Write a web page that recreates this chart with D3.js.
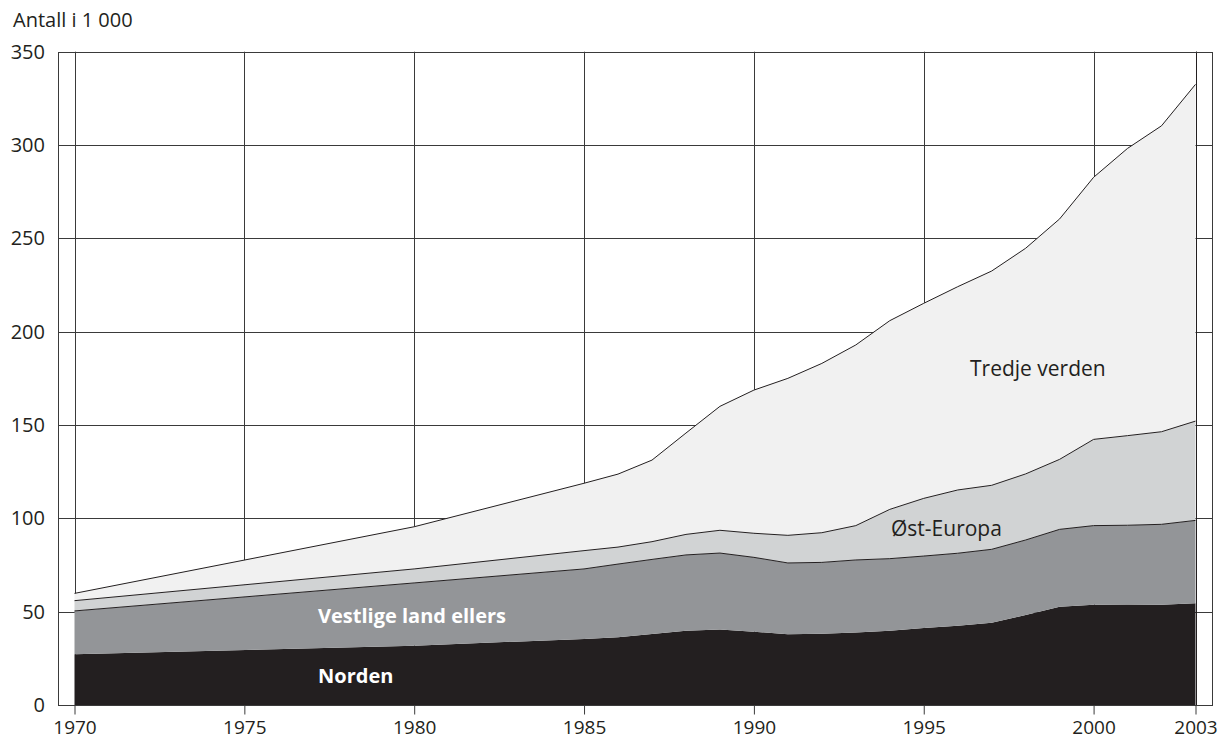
<!DOCTYPE html>
<html>
<head>
<meta charset="utf-8">
<script src="https://cdn.jsdelivr.net/npm/d3@7"></script>
<style>
  body { margin: 0; background: #fff; }
  svg text { font-family: "Open Sans", "Noto Sans", sans-serif; fill: #231f20; }
</style>
</head>
<body>
<svg id="chart" width="1221" height="740"></svg>
<script>
// values, in thousands
var years = [1970, 1980, 1985, 1986, 1987, 1988, 1989, 1990, 1991, 1992, 1993,
             1994, 1995, 1996, 1997, 1998, 1999, 2000, 2001, 2002, 2003];
var norden = [27.2, 31.8, 35.4, 36.3, 38.0, 39.8, 40.5, 39.3, 37.9, 38.2, 38.9,
              39.8, 41.2, 42.5, 44.1, 48.2, 52.7, 53.7, 53.9, 53.7, 54.5];
var vestlige = [23.2, 33.6, 37.5, 39.2, 40.0, 40.6, 40.9, 39.8, 38.2, 38.2, 38.8,
                38.6, 38.6, 38.8, 39.3, 40.2, 41.4, 42.4, 42.4, 43.1, 44.4];
var ostEuropa = [5.5, 7.5, 9.8, 9.1, 9.5, 11.0, 12.2, 12.9, 14.8, 15.9, 18.4,
                 26.4, 30.9, 33.9, 34.3, 35.4, 37.5, 46.2, 48.0, 49.6, 53.2];
var tredje = [3.9, 22.6, 36.1, 39.1, 43.7, 54.3, 66.4, 76.7, 84.1, 90.7, 96.8,
              101.1, 104.5, 108.9, 114.8, 120.9, 128.8, 140.4, 153.9, 163.9, 180.4];
var xTicks = [1970, 1975, 1980, 1985, 1990, 1995, 2000, 2003];
var yTicks = [0, 50, 100, 150, 200, 250, 300, 350];

var keys = ["norden", "vestlige", "ost", "tredje"];
var fills = { norden: "#231f20", vestlige: "#939598", ost: "#d1d3d4", tredje: "#f1f1f1" };

var rows = years.map(function(y, i) {
  return { year: y, norden: norden[i], vestlige: vestlige[i], ost: ostEuropa[i], tredje: tredje[i] };
});

var svg = d3.select("#chart");
var frameLeft = 58, frameRight = 1212;
var x = d3.scaleLinear().domain([1970, 2003]).range([74.5, 1195.5]);
var y = d3.scaleLinear().domain([0, 350]).range([705, 51.7]);

// grid
svg.append("g").selectAll("line").data(yTicks.slice(1)).enter().append("line")
  .attr("x1", frameLeft).attr("x2", frameRight)
  .attr("y1", function(d) { return Math.round(y(d)) + 0.5; })
  .attr("y2", function(d) { return Math.round(y(d)) + 0.5; })
  .attr("stroke", "#3a3a3a").attr("stroke-width", 1);
svg.append("g").selectAll("line").data(xTicks).enter().append("line")
  .attr("x1", function(d) { return Math.round(x(d)) + 0.5; })
  .attr("x2", function(d) { return Math.round(x(d)) + 0.5; })
  .attr("y1", y(350)).attr("y2", y(0))
  .attr("stroke", "#3a3a3a").attr("stroke-width", 1);

// stacked areas
var stack = d3.stack().keys(keys);
var series = stack(rows);
var area = d3.area()
  .x(function(d) { return x(d.data.year); })
  .y0(function(d) { return y(d[0]); })
  .y1(function(d) { return y(d[1]); });
var topLine = d3.line()
  .x(function(d) { return x(d.data.year); })
  .y(function(d) { return y(d[1]); });

svg.append("g").selectAll("path").data(series).enter().append("path")
  .attr("d", area)
  .attr("fill", function(s) { return fills[s.key]; });

svg.append("g").selectAll("path").data(series.slice(1)).enter().append("path")
  .attr("d", topLine)
  .attr("fill", "none")
  .attr("stroke", "#231f20")
  .attr("stroke-width", 1);

// right edge line at 2003
svg.append("line")
  .attr("x1", Math.round(x(2003)) + 0.5).attr("x2", Math.round(x(2003)) + 0.5)
  .attr("y1", y(350)).attr("y2", y(0))
  .attr("stroke", "#231f20");

// frame
svg.append("rect")
  .attr("x", frameLeft + 0.5).attr("y", Math.round(y(350)) + 0.5)
  .attr("width", frameRight - frameLeft).attr("height", Math.round(y(0)) - Math.round(y(350)))
  .attr("fill", "none").attr("stroke", "#3a3a3a");

// axes
var xAxis = d3.axisBottom(x).tickValues(xTicks).tickSize(9).tickPadding(6).tickFormat(d3.format("d"));
var gx = svg.append("g").attr("transform", "translate(0," + (Math.round(y(0)) + 0.5) + ")").call(xAxis);
gx.select(".domain").remove();
gx.selectAll(".tick line").attr("stroke", "#3a3a3a");
gx.selectAll(".tick text").attr("font-size", 19).attr("fill", "#231f20");

var yAxis = d3.axisLeft(y).tickValues(yTicks).tickSize(0).tickPadding(13);
var gy = svg.append("g").attr("transform", "translate(" + frameLeft + ",0)").call(yAxis);
gy.select(".domain").remove();
gy.selectAll(".tick text").attr("font-size", 20).attr("fill", "#231f20");

svg.append("text").attr("x", 13).attr("y", 27).attr("font-size", 20).text("Antall i 1 000");

// series labels
var labels = [
  { text: "Tredje verden", x: 970, y: 376, size: 21, weight: "normal", color: "#231f20" },
  { text: "Øst-Europa", x: 891, y: 536, size: 21, weight: "normal", color: "#231f20" },
  { text: "Vestlige land ellers", x: 318, y: 623, size: 20, weight: "bold", color: "#ffffff" },
  { text: "Norden", x: 318, y: 683, size: 20, weight: "bold", color: "#ffffff" }
];
svg.append("g").selectAll("text").data(labels).enter().append("text")
  .attr("x", function(d) { return d.x; })
  .attr("y", function(d) { return d.y; })
  .attr("font-size", function(d) { return d.size; })
  .attr("font-weight", function(d) { return d.weight; })
  .style("fill", function(d) { return d.color; })
  .text(function(d) { return d.text; });
</script>
</body>
</html>
